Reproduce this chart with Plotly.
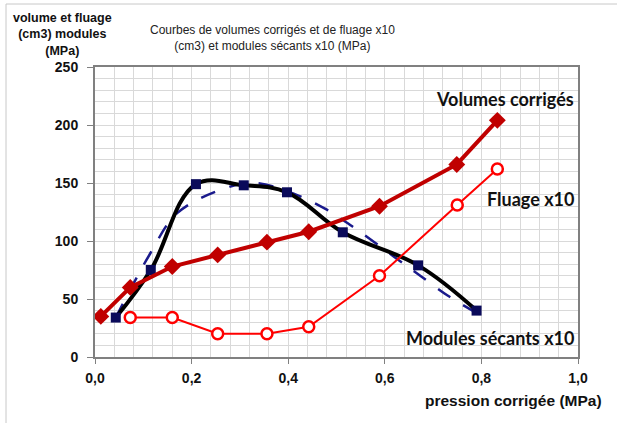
import plotly.graph_objects as go

# Volumes corrigés
vol_x = [0.012, 0.073, 0.16, 0.254, 0.356, 0.4425, 0.589, 0.749, 0.833]
vol_y = [35, 60, 78, 88, 99, 108, 130, 166, 204]

# Fluage x10
flu_x = [0.073, 0.16, 0.254, 0.356, 0.4425, 0.589, 0.75, 0.833]
flu_y = [34, 34, 20, 20, 26, 70, 131, 162]

# Modules sécants x10
mod_x = [0.043, 0.1155, 0.209, 0.308, 0.3975, 0.513, 0.669, 0.79]
mod_y = [34, 75, 149, 148, 142, 107.5, 79, 40]

# Tendance (pointillés) des modules
trend_x = [0.043, 0.114, 0.17, 0.266, 0.33, 0.41, 0.48, 0.543, 0.619, 0.667, 0.73, 0.79]
trend_y = [34, 89, 124, 145, 150, 141, 127, 109.5, 86.5, 72, 53, 38]

fig = go.Figure()

fig.add_trace(go.Scatter(x=trend_x, y=trend_y, mode="lines",
                         line=dict(color="#1a1a8c", width=2.5, dash="longdash", shape="spline"),
                         showlegend=False))
fig.add_trace(go.Scatter(x=mod_x, y=mod_y, mode="lines+markers",
                         line=dict(color="black", width=4, shape="spline", smoothing=1.1),
                         marker=dict(symbol="square", size=10, color="#0a0a5a"),
                         showlegend=False))
fig.add_trace(go.Scatter(x=flu_x, y=flu_y, mode="lines+markers",
                         line=dict(color="#ff0000", width=2),
                         marker=dict(symbol="circle", size=11, color="white",
                                     line=dict(color="#ff0000", width=2.5)),
                         showlegend=False))
fig.add_trace(go.Scatter(x=vol_x, y=vol_y, mode="lines+markers",
                         line=dict(color="#c00000", width=4),
                         marker=dict(symbol="diamond", size=13, color="#c00000"),
                         showlegend=False))

ann_font = dict(family="Lato, Liberation Sans, Arial", size=18, color="#111111")
fig.add_annotation(x=0.995, y=222, xref="x", yref="y", text="<b>Volumes corrigés</b>",
                   showarrow=False, xanchor="right", yanchor="middle", font=ann_font)
fig.add_annotation(x=0.995, y=136, xref="x", yref="y", text="<b>Fluage x10</b>",
                   showarrow=False, xanchor="right", yanchor="middle", font=ann_font)
fig.add_annotation(x=0.995, y=16, xref="x", yref="y", text="<b>Modules sécants x10</b>",
                   showarrow=False, xanchor="right", yanchor="middle", font=ann_font)

# Title
fig.add_annotation(x=(272 - 95) / 483, y=(357 - 38) / 290, xref="paper", yref="paper",
                   text="Courbes de volumes corrigés et de fluage x10<br>(cm3) et modules sécants x10 (MPa)",
                   showarrow=False, xanchor="center", yanchor="middle",
                   font=dict(family="Liberation Sans, Arial", size=12, color="#222222"))
# Y axis title
fig.add_annotation(x=(62 - 95) / 483, y=(357 - 34) / 290, xref="paper", yref="paper",
                   text="<b>volume et fluage<br>(cm3) modules<br>(MPa)</b>",
                   showarrow=False, xanchor="center", yanchor="middle",
                   font=dict(family="Liberation Sans, Arial", size=12.5, color="#111111"))
# X axis title
fig.add_annotation(x=(604 - 95) / 483, y=(357 - 400) / 290, xref="paper", yref="paper",
                   text="<b>pression corrigée (MPa)</b>",
                   showarrow=False, xanchor="right", yanchor="middle",
                   font=dict(family="Liberation Sans, Arial", size=15.5, color="#111111"))

# outer chart border
fig.add_shape(type="rect", xref="paper", yref="paper",
              x0=(6 - 95) / 483, x1=(640 - 95) / 483, y0=(357 - 440) / 290, y1=(357 - 4) / 290,
              line=dict(color="#c8c8c8", width=1), layer="below")

grid_c = "#d9d9d9"
fig.update_layout(
    width=617, height=423,
    margin=dict(l=95, r=39, t=67, b=66),
    paper_bgcolor="white", plot_bgcolor="white",
    separators=", ",
    xaxis=dict(range=[0, 1], dtick=0.2, tick0=0, tickformat=".1f",
               showgrid=True, gridcolor=grid_c, gridwidth=1,
               minor=dict(dtick=0.04, showgrid=True, gridcolor=grid_c, gridwidth=1),
               showline=True, linecolor="#808080", linewidth=2, mirror=True,
               ticks="outside", ticklen=5, tickcolor="#808080", zeroline=False,
               tickfont=dict(family="Liberation Sans, Arial", size=14, color="#111111"),
               ticklabelstandoff=2),
    yaxis=dict(range=[0, 250], dtick=50, tick0=0,
               showgrid=True, gridcolor=grid_c, gridwidth=1,
               minor=dict(dtick=10, showgrid=True, gridcolor=grid_c, gridwidth=1),
               showline=True, linecolor="#808080", linewidth=2, mirror=True,
               ticks="outside", ticklen=6, tickcolor="#808080", zeroline=False,
               tickfont=dict(family="Liberation Sans, Arial", size=14, color="#111111"),
               ticklabelstandoff=6),
)
fig.update_xaxes(tickprefix="<b>", ticksuffix="</b>")
fig.update_yaxes(tickprefix="<b>", ticksuffix="</b>")

fig.write_html("out.html", config={"displayModeBar": False},
               post_script="document.body.style.margin='0';document.body.style.padding='0';")
